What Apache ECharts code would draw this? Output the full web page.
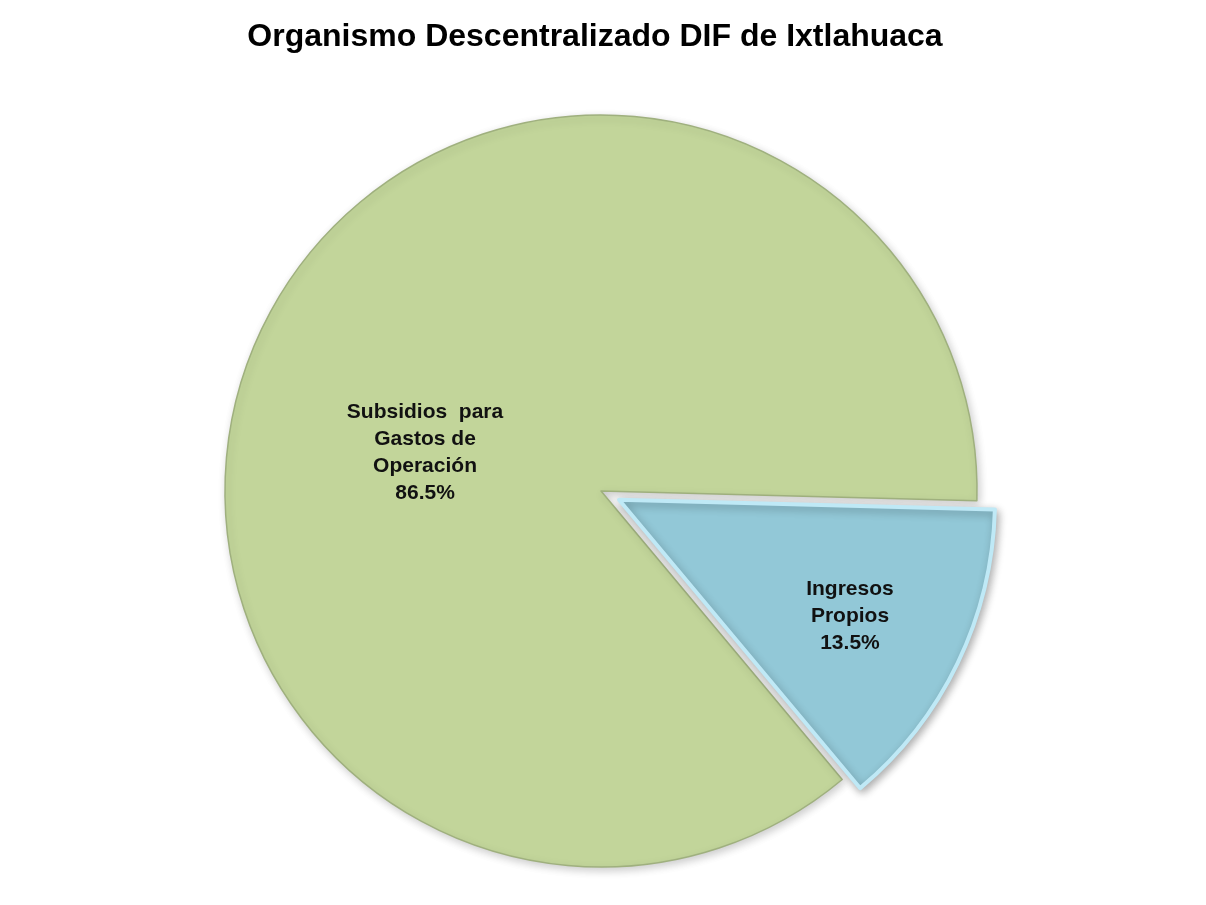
<!DOCTYPE html>
<html>
<head>
<meta charset="utf-8">
<script src="https://cdn.jsdelivr.net/npm/echarts@6/dist/echarts.min.js"></script>
<style>
html,body{margin:0;padding:0;background:#fff;}
#chart{width:1206px;height:905px;}
</style>
</head>
<body>
<div id="chart"></div>
<script>
const chartTitle = 'Organismo Descentralizado DIF de Ixtlahuaca';
const categories = ['Ingresos\nPropios', 'Subsidios  para\nGastos de\nOperación'];
const values = [13.5, 86.5];
const colors = ['#92c8d7', '#c2d59a'];

const chart = echarts.init(document.getElementById('chart'));
chart.setOption({
  backgroundColor: '#ffffff',
  animation: false,
  title: {
    text: chartTitle,
    left: 590,
    top: 16,
    textAlign: 'center',
    textStyle: { fontFamily: 'Liberation Sans, Arial', fontWeight: 'bold', fontSize: 32, color: '#000' }
  },
  series: [{
    type: 'pie',
    center: [601, 491],
    radius: ['0%', 376],
    startAngle: -1.5,
    clockwise: true,
    selectedMode: 'single',
    selectedOffset: 20,
    avoidLabelOverlap: false,
    label: {
      position: 'inside',
      fontFamily: 'Liberation Sans, Arial',
      fontWeight: 'bold',
      fontSize: 21,
      lineHeight: 27,
      color: '#111',
      formatter: p => p.name + '\n' + p.value.toFixed(1) + '%'
    },
    labelLine: { show: false },
    labelLayout: p => (p.dataIndex === 0 ? { dx: 59, dy: 33 } : { dx: -4, dy: 45 }),
    data: categories.map((c, i) => ({
      name: c,
      value: values[i],
      selected: i === 0,
      itemStyle: i === 0
        ? { color: colors[i], borderColor: '#bfe9f6', borderWidth: 4, shadowBlur: 8, shadowColor: 'rgba(0,0,0,0.3)', shadowOffsetX: 2, shadowOffsetY: 3 }
        : { color: colors[i], borderColor: '#9fb07e', borderWidth: 1.5, shadowBlur: 8, shadowColor: 'rgba(0,0,0,0.2)', shadowOffsetX: 2, shadowOffsetY: 3 }
    }))
  }]
});
</script>
</body>
</html>
